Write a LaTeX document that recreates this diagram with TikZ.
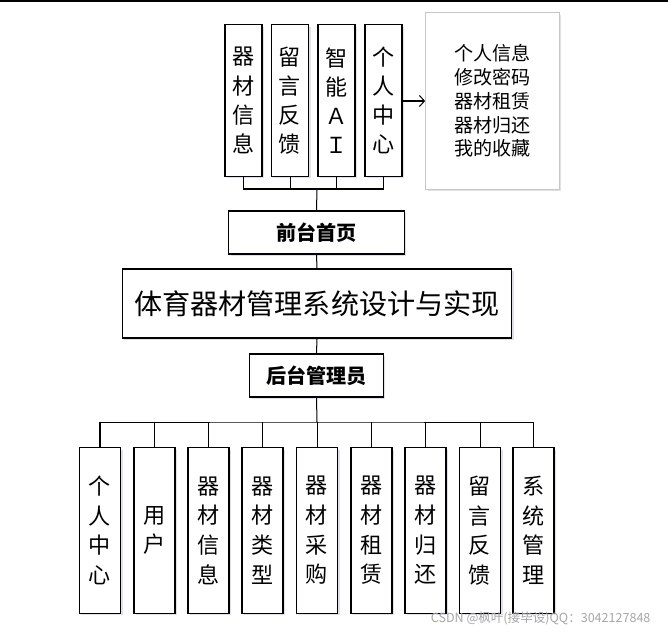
\documentclass[tikz,border=0pt]{standalone}
\usepackage{fontspec}
\setmainfont{Noto Sans CJK SC}
\usetikzlibrary{arrows.meta, shadows}
\tikzset{
  modul/.style={draw, line width=1.3pt, fill=white, inner sep=0pt, align=center,
    drop shadow={shadow xshift=2pt, shadow yshift=-2pt, fill=blue!40!gray, opacity=0.18}},
  oben/.style={modul, minimum width=37pt, minimum height=151pt, font=\fontsize{22}{29}\selectfont},
  unten/.style={modul, minimum width=41pt, minimum height=165pt, font=\fontsize{22}{29.5}\selectfont},
  ebene/.style={modul, font=\fontsize{20}{24}\selectfont\bfseries},
  verb/.style={line width=1pt}
}

\begin{document}
\begin{tikzpicture}[x=0.035cm, y=-0.035cm, >={Straight Barb[length=5pt,width=11pt]}]
  \useasboundingbox (0,0) rectangle (668,632);
  \draw[line width=1.5pt] (0,1) -- (668,1);
  %Vordergrund
  \node[oben] (info) at (243.5,100.5) {器\\材\\信\\息};
  \node[oben] (fankui) at (290,100.5) {留\\言\\反\\馈};
  \node[oben] (ai) at (336.5,100.5) {智\\能\\Ａ\\Ｉ};
  \node[oben] (center) at (383.5,100.5) {个\\人\\中\\心};
  \node[modul, draw=black!22, line width=1.2pt, minimum width=133pt, minimum height=176pt,
        font=\fontsize{19}{23.7}\selectfont] (detail) at (492.5,101)
        {个人信息\\修改密码\\器材租赁\\器材归还\\我的收藏};
  \node[ebene, minimum width=175pt, minimum height=43pt] (front) at (316.5,232.5) {前台首页};
  \node[modul, minimum width=388pt, minimum height=69pt, font=\fontsize{28}{32}\selectfont]
        (sys) at (317,303.5) {体育器材管理系统设计与实现};
  \node[ebene, minimum width=133pt, minimum height=43pt] (admin) at (316.5,375.5) {后台管理员};
  %Hintergrund
  \node[unten] (u1) at (100,530.5) {个\\人\\中\\心};
  \node[unten] (u2) at (154.5,530.5) {用\\户};
  \node[unten] (u3) at (208.5,530.5) {器\\材\\信\\息};
  \node[unten] (u4) at (262.5,530.5) {器\\材\\类\\型};
  \node[unten] (u5) at (317,530.5) {器\\材\\采\\购};
  \node[unten] (u6) at (371.5,530.5) {器\\材\\租\\赁};
  \node[unten] (u7) at (425.5,530.5) {器\\材\\归\\还};
  \node[unten] (u8) at (480,530.5) {留\\言\\反\\馈};
  \node[unten] (u9) at (533.5,530.5) {系\\统\\管\\理};
  \coordinate (obus) at (317,189);
  \coordinate (ubus) at (317,422);
  \draw[verb] (info.south) |- (obus) -| (center.south);
  \draw[verb] (fankui.south) -- (fankui.south |- obus);
  \draw[verb] (ai.south) -- (ai.south |- obus);
  \draw[verb] (obus) -- (front.north);
  \draw[verb, ->] (center.east |- detail.west) -- (detail.west);
  \draw[verb] (front.south) -- (sys.north);
  \draw[verb] (sys.south) -- (admin.north);
  \draw[verb] (admin.south) -- (ubus);
  \draw[verb] (u1.north) |- (ubus) -| (u9.north);
  \draw[verb] (u2.north) -- (u2.north |- ubus);
  \draw[verb] (u3.north) -- (u3.north |- ubus);
  \draw[verb] (u4.north) -- (u4.north |- ubus);
  \draw[verb] (u5.north) -- (u5.north |- ubus);
  \draw[verb] (u6.north) -- (u6.north |- ubus);
  \draw[verb] (u7.north) -- (u7.north |- ubus);
  \draw[verb] (u8.north) -- (u8.north |- ubus);
  \node[text=black!35, font=\fontsize{12.5}{14}\selectfont, anchor=east] (wm) at (654,618)
        {CSDN @枫叶(接毕设)QQ：3042127848};
\end{tikzpicture}
\end{document}
